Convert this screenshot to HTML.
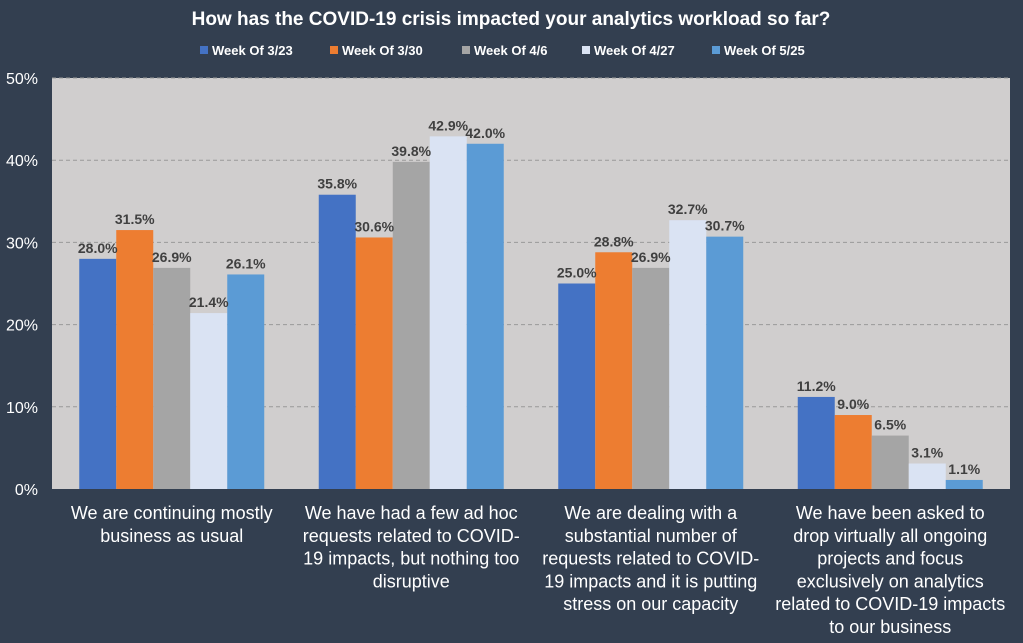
<!DOCTYPE html>
<html><head><meta charset="utf-8"><style>
body{margin:0;width:1023px;height:643px;background:#333f50;overflow:hidden;font-family:"Liberation Sans",sans-serif}
svg{display:block}
</style></head><body>
<svg id="c" width="1023" height="643">
<text x="511" y="25" fill="#fff" font-size="19" font-weight="bold" text-anchor="middle">How has the COVID-19 crisis impacted your analytics workload so far?</text>
<g id="legend"></g>
<rect x="52" y="78" width="958" height="411" fill="#d0cece"/>
<g id="grid"></g><g id="bars"></g><g id="labels"></g><g id="cats"></g>
</svg>
<script>
const series=["Week Of 3/23","Week Of 3/30","Week Of 4/6","Week Of 4/27","Week Of 5/25"];
const colors=["#4472c4","#ed7d31","#a5a5a5","#dae3f3","#5b9bd5"];
const categories=[["We are continuing mostly","business as usual"],["We have had a few ad hoc","requests related to COVID-","19 impacts, but nothing too","disruptive"],["We are dealing with a","substantial number of","requests related to COVID-","19 impacts and it is putting","stress on our capacity"],["We have been asked to","drop virtually all ongoing","projects and focus","exclusively on analytics","related to COVID-19 impacts","to our business"]];
const w1=[28.0,35.8,25.0,11.2];
const w2=[31.5,30.6,28.8,9.0];
const w3=[26.9,39.8,26.9,6.5];
const w4=[21.4,42.9,32.7,3.1];
const w5=[26.1,42.0,30.7,1.1];
const ticks=[0,10,20,30,40,50];
const values=[w1,w2,w3,w4,w5];
const NS="http://www.w3.org/2000/svg";
const L=52,R=1010,T=78,B=489;
const y=v=>B-(v/50)*(B-T);
const gw=(R-L)/categories.length, bw=37;
function mk(tag,at,parent,txt){const e=document.createElementNS(NS,tag);for(const k in at)e.setAttribute(k,at[k]);if(txt!==undefined)e.textContent=txt;document.getElementById(parent).appendChild(e);return e;}
ticks.forEach(t=>{
 if(t>0){const g=mk('line',{x1:L,x2:R,y1:y(t),y2:y(t),stroke:'#999','stroke-dasharray':'4,3'},'grid');
 
 }
 const tl=mk('text',{x:38,y:y(t)+6,fill:'#fff','font-size':16,'text-anchor':'end'},'grid',t+'%');
 
 
});
categories.forEach((c,i)=>{
 const cx=L+gw*(i+0.5), x0=cx-bw*series.length/2;
 values.forEach((s,j)=>{
  const v=s[i];
  const r=mk('rect',{x:x0+j*bw,y:y(v),width:bw,height:B-y(v),fill:colors[j]},'bars');
  
  
  const t=mk('text',{x:x0+j*bw+bw/2,y:y(v)-6,fill:'#404040','font-size':14,'font-weight':'bold','text-anchor':'middle'},'labels',v.toFixed(1)+'%');
  
  
 });
 c.forEach((line,k)=>{
  const t=mk('text',{x:cx,y:519+k*22.8,fill:'#fff','font-size':18,'text-anchor':'middle'},'cats',line);
  
  
 });
});
const lx=[200,330,462,582,712];
series.forEach((s,j)=>{
 const r=mk('rect',{x:lx[j],y:46,width:8,height:8,fill:colors[j]},'legend');
 
 
 const t=mk('text',{x:lx[j]+12,y:55,fill:'#fff','font-size':13,'font-weight':'bold'},'legend',s);
 
 
});
</script>
</body></html>
